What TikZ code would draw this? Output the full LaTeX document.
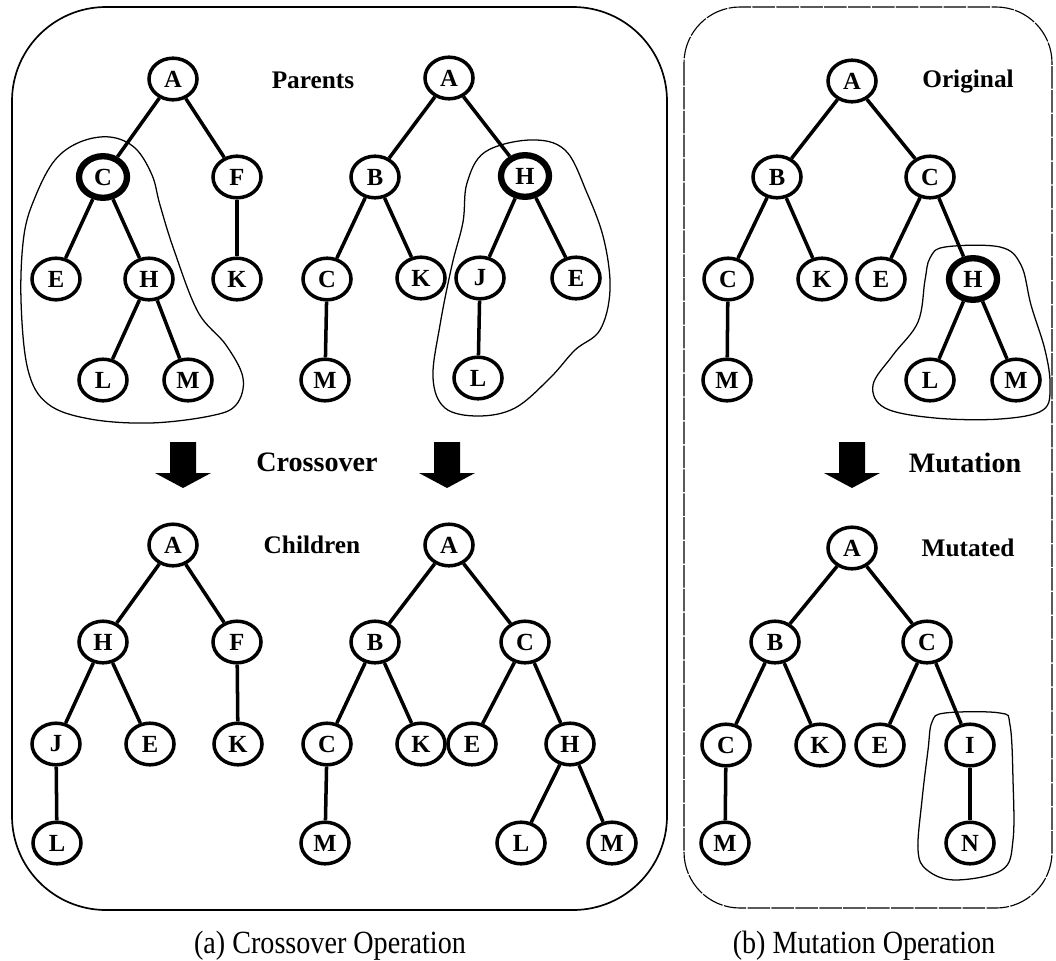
\documentclass[tikz,border=0pt]{standalone}
\usepackage{fontspec}
\setmainfont{Liberation Serif}
\usetikzlibrary{shapes.geometric}
\begin{document}
\begin{tikzpicture}[x=0.025cm,y=-0.025cm,
  tnode/.style={ellipse,draw,line width=2.5pt,minimum width=1.2cm,minimum height=1.04cm,
    inner sep=0pt,font=\fontsize{17.5}{17.5}\selectfont\bfseries},
  cut/.style={tnode,line width=4.5pt},
  link/.style={line width=2.5pt},
  blob/.style={line width=0.9pt},
  treelabel/.style={font=\fontsize{18}{18}\selectfont\bfseries},
  oplabel/.style={font=\fontsize{20}{20}\selectfont\bfseries},
  caption/.style={font=\fontsize{20}{20}\selectfont},
  downarrow/.pic={\fill (-13,0) -- (13,0) -- (13,31) -- (28,31) -- (0,46) -- (-28,31) -- (-13,31) -- cycle;}
]
\useasboundingbox (0,0) rectangle (1056,960);

% panel frames
\draw[line width=1.2pt,rounded corners=2.35cm] (12,7) rectangle (667,910);
\draw[line width=0.8pt,dash pattern=on 16pt off 1pt,rounded corners=1.4cm] (684,7) rectangle (1052,908);

% ---------- parent 1 ----------
\node[tnode] (pA) at (173,79) {A};
\node[cut]   (pC) at (103,177) {C};
\node[tnode] (pF) at (237,177) {F};
\node[tnode] (pE) at (56,279) {E};
\node[tnode] (pH) at (149,279) {H};
\node[tnode] (pK) at (237,279) {K};
\node[tnode] (pL) at (103,380) {L};
\node[tnode] (pM) at (188,380) {M};
\draw[link] (pA) -- (pC); \draw[link] (pA) -- (pF);
\draw[link] (pC) -- (pE); \draw[link] (pC) -- (pH);
\draw[link] (pF) -- (pK);
\draw[link] (pH) -- (pL); \draw[link] (pH) -- (pM);

% ---------- parent 2 ----------
\node[tnode] (qA) at (449,78) {A};
\node[tnode] (qB) at (375,177) {B};
\node[cut]   (qH) at (525,176) {H};
\node[tnode] (qC) at (327,279) {C};
\node[tnode] (qK) at (421,278) {K};
\node[tnode] (qJ) at (480,278) {J};
\node[tnode] (qE) at (576,278) {E};
\node[tnode] (qM) at (325,380) {M};
\node[tnode] (qL) at (478,378) {L};
\draw[link] (qA) -- (qB); \draw[link] (qA) -- (qH);
\draw[link] (qB) -- (qC); \draw[link] (qB) -- (qK);
\draw[link] (qH) -- (qJ); \draw[link] (qH) -- (qE);
\draw[link] (qC) -- (qM); \draw[link] (qJ) -- (qL);

\node[treelabel] (parents) at (313,80) {Parents};

% exchanged subtrees
\draw[blob] plot[smooth cycle,tension=0.6] coordinates {
  (110,137) (135,148) (152,175) (160,205) (174,250) (198,312) (226,345) (243,378)
  (236,405) (210,416) (150,423) (90,419) (48,404) (28,370) (21,300) (24,235)
  (36,195) (55,160) (80,142)};
\draw[blob] plot[smooth cycle,tension=0.6] coordinates {
  (530,140) (565,150) (587,193) (604,240) (610,290) (600,330) (575,350) (550,378)
  (515,408) (478,416) (445,408) (433,378) (440,325) (452,265) (463,222) (467,183)
  (485,152)};

% crossover step
\pic at (183,442) {downarrow};
\pic at (447,442) {downarrow};
\node[oplabel] (xover) at (317,462) {Crossover};

% ---------- child 1 ----------
\node[tnode] (cA) at (173,545) {A};
\node[tnode] (cH) at (103,642) {H};
\node[tnode] (cF) at (237,642) {F};
\node[tnode] (cJ) at (56,744) {J};
\node[tnode] (cE) at (150,744) {E};
\node[tnode] (cK) at (238,744) {K};
\node[tnode] (cL) at (57,843) {L};
\draw[link] (cA) -- (cH); \draw[link] (cA) -- (cF);
\draw[link] (cH) -- (cJ); \draw[link] (cH) -- (cE);
\draw[link] (cF) -- (cK); \draw[link] (cJ) -- (cL);

% ---------- child 2 ----------
\node[tnode] (dA) at (449,545) {A};
\node[tnode] (dB) at (375,642) {B};
\node[tnode] (dC) at (525,642) {C};
\node[tnode] (dC2) at (327,744) {C};
\node[tnode] (dK) at (421,744) {K};
\node[tnode] (dE) at (472,744) {E};
\node[tnode] (dH) at (570,744) {H};
\node[tnode] (dM) at (325,843) {M};
\node[tnode] (dL) at (521,843) {L};
\node[tnode] (dM2) at (612,843) {M};
\draw[link] (dA) -- (dB); \draw[link] (dA) -- (dC);
\draw[link] (dB) -- (dC2); \draw[link] (dB) -- (dK);
\draw[link] (dC) -- (dE); \draw[link] (dC) -- (dH);
\draw[link] (dC2) -- (dM);
\draw[link] (dH) -- (dL); \draw[link] (dH) -- (dM2);

\node[treelabel] (children) at (312,545) {Children};

% ---------- original ----------
\node[tnode] (oA) at (852,81) {A};
\node[tnode] (oB) at (777,177) {B};
\node[tnode] (oC) at (930,177) {C};
\node[tnode] (oC2) at (728,279) {C};
\node[tnode] (oK) at (822,279) {K};
\node[tnode] (oE) at (881,279) {E};
\node[cut]   (oH) at (973,279) {H};
\node[tnode] (oM) at (727,380) {M};
\node[tnode] (oL) at (930,380) {L};
\node[tnode] (oM2) at (1016,380) {M};
\draw[link] (oA) -- (oB); \draw[link] (oA) -- (oC);
\draw[link] (oB) -- (oC2); \draw[link] (oB) -- (oK);
\draw[link] (oC) -- (oE); \draw[link] (oC) -- (oH);
\draw[link] (oC2) -- (oM);
\draw[link] (oH) -- (oL); \draw[link] (oH) -- (oM2);

\node[treelabel] (original) at (968,82) {Original};

\draw[blob] plot[smooth cycle,tension=0.6] coordinates {
  (945,247) (1000,247) (1021,265) (1031,305) (1045,350) (1050,385) (1043,410)
  (1000,419) (935,418) (885,408) (873,385) (893,355) (918,322) (925,280) (930,258)};

% mutation step
\pic at (852,442) {downarrow};
\node[oplabel] (mut) at (965,463) {Mutation};

% ---------- mutated ----------
\node[tnode] (mA) at (852,548) {A};
\node[tnode] (mB) at (775,642) {B};
\node[tnode] (mC) at (927,642) {C};
\node[tnode] (mC2) at (726,745) {C};
\node[tnode] (mK) at (820,745) {K};
\node[tnode] (mE) at (880,745) {E};
\node[tnode] (mI) at (970,745) {I};
\node[tnode] (mM) at (725,843) {M};
\node[tnode] (mN) at (970,843) {N};
\draw[link] (mA) -- (mB); \draw[link] (mA) -- (mC);
\draw[link] (mB) -- (mC2); \draw[link] (mB) -- (mK);
\draw[link] (mC) -- (mE); \draw[link] (mC) -- (mI);
\draw[link] (mC2) -- (mM); \draw[link] (mI) -- (mN);

\node[treelabel] (mutated) at (968,548) {Mutated};

\draw[blob] plot[smooth cycle,tension=0.6] coordinates {
  (945,713) (1000,713) (1010,725) (1013,780) (1013,840) (1002,870) (955,880)
  (927,870) (918,850) (922,800) (928,750) (932,722)};

% captions
\node[caption] (capa) at (330,946) {\scalebox{1}[1.15]{(a) Crossover Operation}};
\node[caption] (capb) at (864,946) {\scalebox{1}[1.15]{(b) Mutation Operation}};
\end{tikzpicture}
\end{document}
